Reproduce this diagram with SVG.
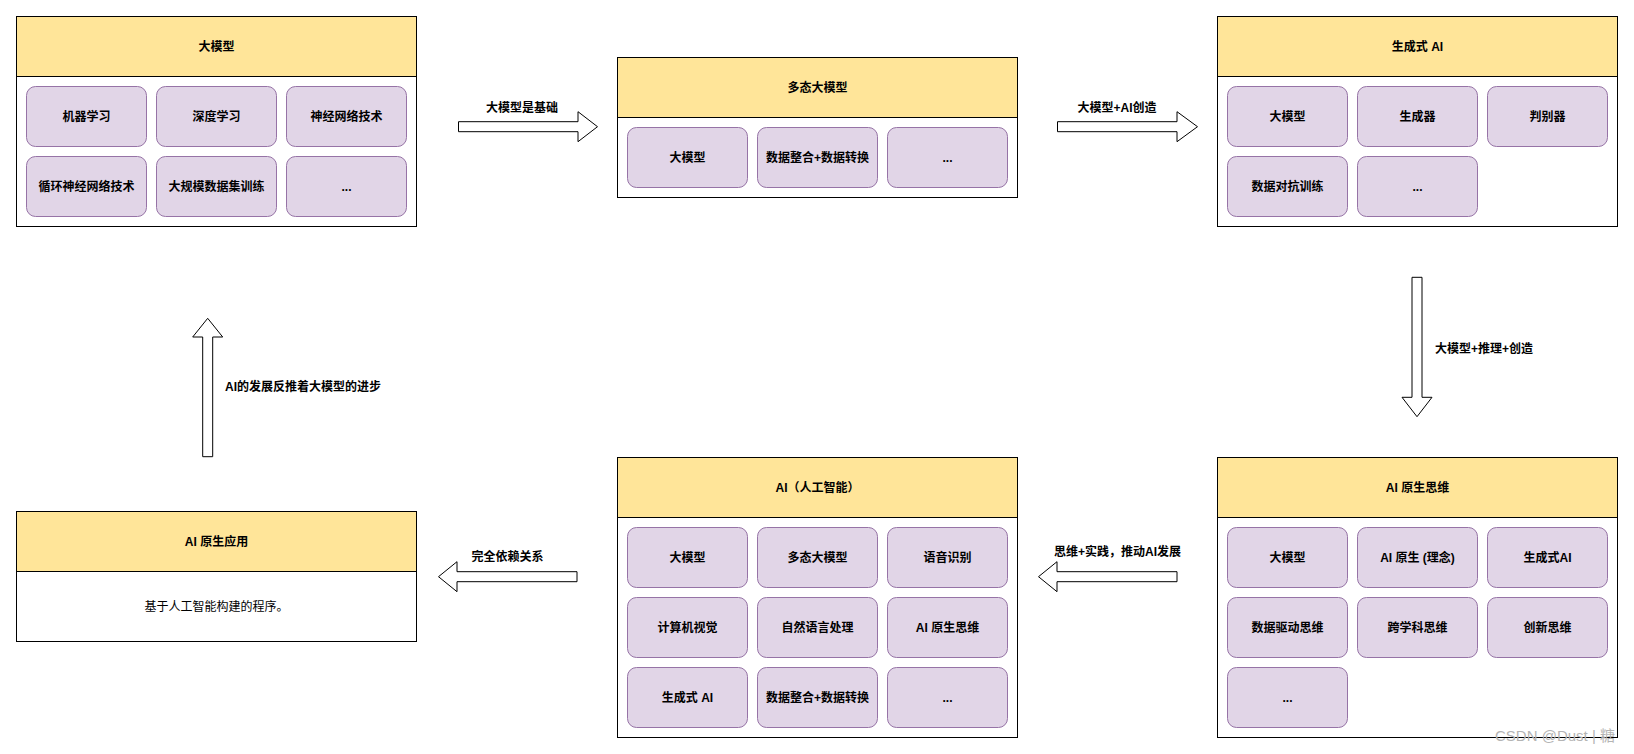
<svg xmlns="http://www.w3.org/2000/svg" width="1634" height="754" viewBox="0 0 1634 754">
<style>
.box{fill:#ffffff;stroke:#000000;stroke-width:1}
.hdr{fill:#FFE599;stroke:#000000;stroke-width:1}
.item{fill:#E1D5E7;stroke:#9673A6;stroke-width:1}
.arrow{fill:#ffffff;stroke:#000000;stroke-width:1;stroke-linejoin:miter}
text{font-family:"Liberation Sans","Noto Sans CJK SC",sans-serif;font-size:12px;fill:#000000}
.b{font-weight:bold}
.c{text-anchor:middle}
.wm{font-size:15px;fill:#b4b4b4;font-weight:normal}
</style>
<rect width="1634" height="754" fill="#ffffff"/>

<g id="connectors">
  <path class="arrow" d="M458.5,121.7 H578 V111.7 L597.5,126.7 L578,141.7 V131.7 H458.5 Z"/>
  <text class="b c" x="522" y="112">大模型是基础</text>
  <path class="arrow" d="M1057.5,121.7 H1177 V111.7 L1197.5,126.7 L1177,141.7 V131.7 H1057.5 Z"/>
  <text class="b c" x="1117" y="112">大模型+AI创造</text>
  <path class="arrow" d="M1412,277.3 V397.3 H1402 L1417,416.7 L1432,397.3 H1422 V277.3 Z"/>
  <text class="b" x="1435" y="352.5">大模型+推理+创造</text>
  <path class="arrow" d="M1177,571.7 H1057 V561.7 L1038.5,576.7 L1057,591.7 V581.7 H1177 Z"/>
  <text class="b c" x="1117.5" y="556">思维+实践，推动AI发展</text>
  <path class="arrow" d="M577,571.7 H457 V561.7 L438.5,576.7 L457,591.7 V581.7 H577 Z"/>
  <text class="b c" x="507.5" y="561">完全依赖关系</text>
  <path class="arrow" d="M202.7,456.7 V337 H192.7 L207.7,318.3 L222.7,337 H212.7 V456.7 Z"/>
  <text class="b" x="225" y="391">AI的发展反推着大模型的进步</text>
</g>

<g id="node-damoxing">
  <rect class="box" x="16.5" y="16.5" width="400" height="210"/>
  <rect class="hdr" x="16.5" y="16.5" width="400" height="60"/>
  <text class="b c" x="216.5" y="51">大模型</text>
  <rect class="item" x="26.5" y="86.5" width="120" height="60" rx="9"/>
  <text class="b c" x="86.5" y="121">机器学习</text>
  <rect class="item" x="156.5" y="86.5" width="120" height="60" rx="9"/>
  <text class="b c" x="216.5" y="121">深度学习</text>
  <rect class="item" x="286.5" y="86.5" width="120" height="60" rx="9"/>
  <text class="b c" x="346.5" y="121">神经网络技术</text>
  <rect class="item" x="26.5" y="156.5" width="120" height="60" rx="9"/>
  <text class="b c" x="86.5" y="191">循环神经网络技术</text>
  <rect class="item" x="156.5" y="156.5" width="120" height="60" rx="9"/>
  <text class="b c" x="216.5" y="191">大规模数据集训练</text>
  <rect class="item" x="286.5" y="156.5" width="120" height="60" rx="9"/>
  <text class="b c" x="346.5" y="191">...</text>
</g>

<g id="node-duotai">
  <rect class="box" x="617.5" y="57.5" width="400" height="140"/>
  <rect class="hdr" x="617.5" y="57.5" width="400" height="60"/>
  <text class="b c" x="817.5" y="92">多态大模型</text>
  <rect class="item" x="627.5" y="127.5" width="120" height="60" rx="9"/>
  <text class="b c" x="687.5" y="162">大模型</text>
  <rect class="item" x="757.5" y="127.5" width="120" height="60" rx="9"/>
  <text class="b c" x="817.5" y="162">数据整合+数据转换</text>
  <rect class="item" x="887.5" y="127.5" width="120" height="60" rx="9"/>
  <text class="b c" x="947.5" y="162">...</text>
</g>

<g id="node-shengcheng">
  <rect class="box" x="1217.5" y="16.5" width="400" height="210"/>
  <rect class="hdr" x="1217.5" y="16.5" width="400" height="60"/>
  <text class="b c" x="1417.5" y="51">生成式 AI</text>
  <rect class="item" x="1227.5" y="86.5" width="120" height="60" rx="9"/>
  <text class="b c" x="1287.5" y="121">大模型</text>
  <rect class="item" x="1357.5" y="86.5" width="120" height="60" rx="9"/>
  <text class="b c" x="1417.5" y="121">生成器</text>
  <rect class="item" x="1487.5" y="86.5" width="120" height="60" rx="9"/>
  <text class="b c" x="1547.5" y="121">判别器</text>
  <rect class="item" x="1227.5" y="156.5" width="120" height="60" rx="9"/>
  <text class="b c" x="1287.5" y="191">数据对抗训练</text>
  <rect class="item" x="1357.5" y="156.5" width="120" height="60" rx="9"/>
  <text class="b c" x="1417.5" y="191">...</text>
</g>

<g id="node-yuanshengsiwei">
  <rect class="box" x="1217.5" y="457.5" width="400" height="280"/>
  <rect class="hdr" x="1217.5" y="457.5" width="400" height="60"/>
  <text class="b c" x="1417.5" y="492">AI 原生思维</text>
  <rect class="item" x="1227.5" y="527.5" width="120" height="60" rx="9"/>
  <text class="b c" x="1287.5" y="562">大模型</text>
  <rect class="item" x="1357.5" y="527.5" width="120" height="60" rx="9"/>
  <text class="b c" x="1417.5" y="562">AI 原生 (理念)</text>
  <rect class="item" x="1487.5" y="527.5" width="120" height="60" rx="9"/>
  <text class="b c" x="1547.5" y="562">生成式AI</text>
  <rect class="item" x="1227.5" y="597.5" width="120" height="60" rx="9"/>
  <text class="b c" x="1287.5" y="632">数据驱动思维</text>
  <rect class="item" x="1357.5" y="597.5" width="120" height="60" rx="9"/>
  <text class="b c" x="1417.5" y="632">跨学科思维</text>
  <rect class="item" x="1487.5" y="597.5" width="120" height="60" rx="9"/>
  <text class="b c" x="1547.5" y="632">创新思维</text>
  <rect class="item" x="1227.5" y="667.5" width="120" height="60" rx="9"/>
  <text class="b c" x="1287.5" y="702">...</text>
</g>

<g id="node-ai">
  <rect class="box" x="617.5" y="457.5" width="400" height="280"/>
  <rect class="hdr" x="617.5" y="457.5" width="400" height="60"/>
  <text class="b c" x="817.5" y="492">AI（人工智能）</text>
  <rect class="item" x="627.5" y="527.5" width="120" height="60" rx="9"/>
  <text class="b c" x="687.5" y="562">大模型</text>
  <rect class="item" x="757.5" y="527.5" width="120" height="60" rx="9"/>
  <text class="b c" x="817.5" y="562">多态大模型</text>
  <rect class="item" x="887.5" y="527.5" width="120" height="60" rx="9"/>
  <text class="b c" x="947.5" y="562">语音识别</text>
  <rect class="item" x="627.5" y="597.5" width="120" height="60" rx="9"/>
  <text class="b c" x="687.5" y="632">计算机视觉</text>
  <rect class="item" x="757.5" y="597.5" width="120" height="60" rx="9"/>
  <text class="b c" x="817.5" y="632">自然语言处理</text>
  <rect class="item" x="887.5" y="597.5" width="120" height="60" rx="9"/>
  <text class="b c" x="947.5" y="632">AI 原生思维</text>
  <rect class="item" x="627.5" y="667.5" width="120" height="60" rx="9"/>
  <text class="b c" x="687.5" y="702">生成式 AI</text>
  <rect class="item" x="757.5" y="667.5" width="120" height="60" rx="9"/>
  <text class="b c" x="817.5" y="702">数据整合+数据转换</text>
  <rect class="item" x="887.5" y="667.5" width="120" height="60" rx="9"/>
  <text class="b c" x="947.5" y="702">...</text>
</g>

<g id="node-yuanshengyingyong">
  <rect class="box" x="16.5" y="511.5" width="400" height="130"/>
  <rect class="hdr" x="16.5" y="511.5" width="400" height="60"/>
  <text class="b c" x="216.5" y="546">AI 原生应用</text>
  <text class="c" x="216.5" y="611">基于人工智能构建的程序。</text>
</g>

<g id="watermark">
  <text class="wm" x="1495" y="741">CSDN @Dust | 糖</text>
</g>
</svg>
